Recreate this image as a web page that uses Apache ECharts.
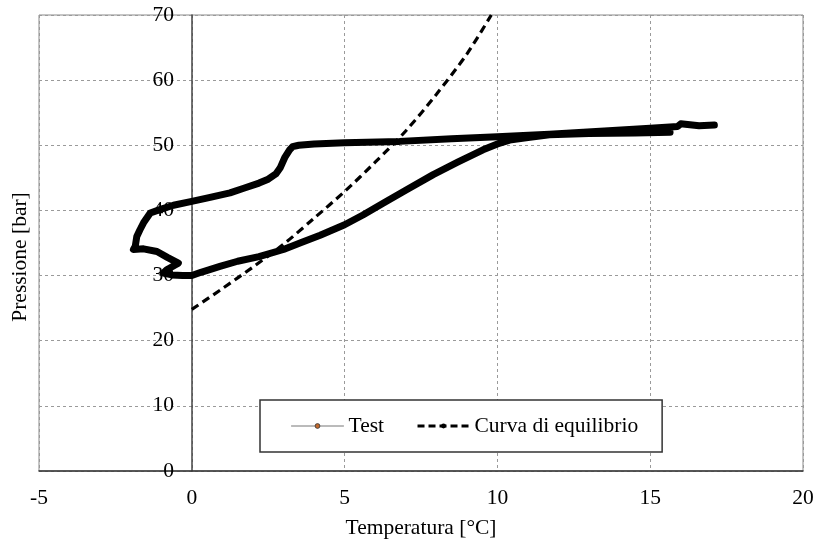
<!DOCTYPE html>
<html>
<head>
<meta charset="utf-8">
<script src="https://cdn.jsdelivr.net/npm/echarts@6/dist/echarts.min.js"></script>
<style>html,body{margin:0;padding:0;background:#fff}#c{width:816px;height:540px}</style>
</head>
<body>
<div id="c"></div>
<script>
// X ticks and Y ticks
const xTicks = [-5, 0, 5, 10, 15, 20];
const yTicks = [0, 10, 20, 30, 40, 50, 60, 70];
const seriesNames = ['Test', 'Curva di equilibrio'];

// Test loop: temperature [°C], pressure [bar], read along the path
const testT = [17.1, 16.6, 16.0, 15.9, 15.0, 13.5, 11.7, 10.0, 8.5, 6.8, 5.0, 4.0, 3.5, 3.3, 3.2, 3.05, 2.9, 2.75, 2.5, 2.2, 1.7, 1.25, 0.6, 0.0, -0.6, -1.0, -1.36, -1.58, -1.7, -1.8, -1.85, -1.91, -1.58, -1.14, -0.8, -0.44, -0.82, -0.93, -0.65, -0.3, 0.0, 0.3, 0.92, 1.5, 2.2, 3.0, 3.54, 4.2, 5.0, 5.6, 6.26, 7.0, 7.9, 8.7, 9.53, 10.0, 10.4, 11.0, 11.7, 13.0, 14.5, 15.65];
const testP = [53.1, 53.0, 53.3, 52.9, 52.6, 52.2, 51.7, 51.3, 51.0, 50.6, 50.4, 50.2, 50.0, 49.8, 49.3, 48.2, 46.6, 45.6, 44.8, 44.2, 43.4, 42.7, 42.0, 41.4, 40.8, 40.2, 39.6, 38.1, 37.0, 36.0, 34.5, 34.0, 34.1, 33.7, 32.8, 31.9, 30.9, 30.4, 30.1, 30.0, 30.0, 30.5, 31.4, 32.2, 32.9, 34.0, 35.0, 36.2, 37.8, 39.3, 41.1, 43.1, 45.5, 47.4, 49.3, 50.2, 50.8, 51.2, 51.6, 51.8, 51.9, 52.0];

// Equilibrium curve
const eqT = [0, 1, 2, 3, 4, 5, 6, 7, 8, 9, 9.8];
const eqP = [24.8, 28.0, 31.3, 34.8, 38.8, 42.9, 47.4, 52.2, 57.8, 64.0, 70.0];

const serif = 'Liberation Serif';
const fs = 21.5;
const testData = testT.map((t, i) => [t, testP[i]]);
const eqData = eqT.map((t, i) => [t, eqP[i]]);

const chart = echarts.init(document.getElementById('c'), null, {renderer: 'canvas'});
chart.setOption({
  animation: false,
  backgroundColor: '#fff',
  grid: {left: 39, right: 13, top: 15, bottom: 69, show: true, borderColor: '#8a8a8a', borderWidth: 1, backgroundColor: 'transparent', containLabel: false, outerBoundsMode: 'none'},
  xAxis: {
    type: 'value', min: xTicks[0], max: xTicks[xTicks.length - 1], interval: 5,
    name: 'Temperatura [°C]', nameLocation: 'middle', nameGap: 46,
    nameTextStyle: {fontFamily: serif, fontSize: fs, color: '#000'},
    axisLine: {show: true, onZero: false, lineStyle: {color: '#333', width: 1.5}},
    axisTick: {show: false},
    axisLabel: {fontFamily: serif, fontSize: fs, color: '#000', margin: 16, showMinLabel: true, showMaxLabel: true},
    splitLine: {show: true, lineStyle: {color: '#9a9a9a', type: [3, 3], width: 1}}
  },
  yAxis: {
    type: 'value', min: yTicks[0], max: yTicks[yTicks.length - 1], interval: 10,
    axisLine: {show: true, onZero: true, lineStyle: {color: '#444', width: 1.5}},
    axisTick: {show: false},
    axisLabel: {fontFamily: serif, fontSize: fs, color: '#000', margin: -135, showMinLabel: true, showMaxLabel: true},
    splitLine: {show: true, lineStyle: {color: '#9a9a9a', type: [3, 3], width: 1}}
  },
  legend: {
    left: 260, top: 400,
    padding: [15, 24, 15, 31],
    itemGap: 32, itemWidth: 52, itemHeight: 6,
    backgroundColor: '#fff', borderColor: '#333', borderWidth: 1.5,
    textStyle: {fontFamily: serif, fontSize: fs, color: '#000'},
    data: [
      {name: seriesNames[0], itemStyle: {color: '#c2692c', borderColor: '#333', borderWidth: 0.8}, lineStyle: {color: '#777', width: 1}},
      {name: seriesNames[1], lineStyle: {color: '#000', width: 3, type: [7, 4]}}
    ]
  },
  graphic: [{
    type: 'text', x: 20, y: 257, rotation: Math.PI / 2,
    style: {text: 'Pressione [bar]', font: fs + 'px "Liberation Serif"', fill: '#000', align: 'center', verticalAlign: 'middle'}
  }],
  series: [
    {
      name: seriesNames[0], type: 'line', data: testData,
      symbol: 'circle', symbolSize: 4, showSymbol: false,
      itemStyle: {color: '#c2692c'},
      lineStyle: {color: '#000', width: 7, cap: 'round', join: 'round'},
      z: 2
    },
    {
      name: seriesNames[1], type: 'line', data: eqData, smooth: 0.3,
      symbol: 'none',
      itemStyle: {color: '#000'},
      lineStyle: {color: '#000', width: 3.2, type: [8, 5]},
      z: 3
    }
  ]
});
</script>
</body>
</html>
